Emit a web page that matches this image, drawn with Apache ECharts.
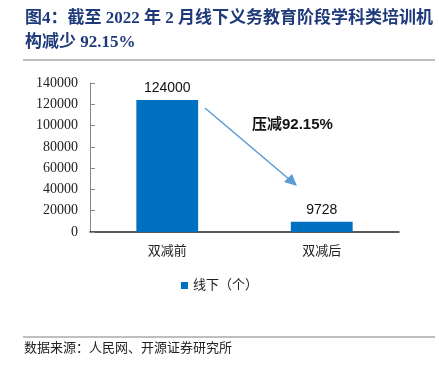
<!DOCTYPE html>
<html><head><meta charset="utf-8">
<script src="https://cdn.jsdelivr.net/npm/echarts@6/dist/echarts.min.js"></script>
<style>html,body{margin:0;padding:0;background:#fff}#c{width:439px;height:375px}</style>
</head><body><div id="c"></div>
<script>
const categories = ['双减前', '双减后'];
const offlineValues = [124000, 9728];
const seriesName = '线下（个）';
const yTicks = [0, 140000, 20000]; // min, max, interval
const titleLines = ['图4：截至 2022 年 2 月线下义务教育阶段学科类培训机', '构减少 92.15%'];
const annotationText = '压减92.15%';
const sourceText = '数据来源：人民网、开源证券研究所';

const serif = '"Liberation Serif", "Noto Sans CJK SC", serif';
const chart = echarts.init(document.getElementById('c'), null, {renderer: 'canvas'});
chart.setOption({
  animation: false,
  backgroundColor: '#fff',
  title: {
    text: titleLines.join('\n'),
    left: 20, top: 2,
    textStyle: {fontFamily: serif, fontSize: 17, fontWeight: 'bold', color: '#1f3a7a', lineHeight: 24}
  },
  grid: {left: 90, right: 40, top: 83, bottom: 143},
  legend: {
    data: [seriesName], top: 274, left: 'center',
    itemWidth: 7, itemHeight: 7, icon: 'rect', itemGap: 4,
    textStyle: {fontFamily: serif, fontSize: 13, color: '#222'}
  },
  xAxis: {
    type: 'category', data: categories,
    axisLine: {lineStyle: {color: '#222', width: 1.5}},
    axisTick: {inside: true, length: 5, lineStyle: {color: '#444'}},
    axisLabel: {fontFamily: serif, fontSize: 13, color: '#222', margin: 13}
  },
  yAxis: {
    type: 'value', min: yTicks[0], max: yTicks[1], interval: yTicks[2],
    splitLine: {show: false},
    axisLine: {show: true, lineStyle: {color: '#888'}},
    axisTick: {show: true, inside: true, length: 5, lineStyle: {color: '#888'}},
    axisLabel: {fontFamily: serif, fontSize: 14, color: '#222', margin: 12, formatter: v => String(v)}
  },
  series: [{
    name: seriesName, type: 'bar', data: offlineValues, barWidth: '40%',
    itemStyle: {color: '#0070c0'},
    label: {show: true, position: 'top', distance: 5, fontFamily: '"Liberation Sans", Arial, sans-serif', fontSize: 14, color: '#111'}
  }],
  graphic: [
    {type: 'line', shape: {x1: 23, y1: 60, x2: 435, y2: 60}, style: {stroke: '#808080', lineWidth: 1.2}},
    {type: 'line', shape: {x1: 23, y1: 337, x2: 435, y2: 337}, style: {stroke: '#808080', lineWidth: 1.2}},
    {type: 'text', left: 24, top: 342, style: {text: sourceText, font: '13px ' + serif, fill: '#222'}},
    {type: 'line', shape: {x1: 205, y1: 108, x2: 290, y2: 180}, style: {stroke: '#5b9bd5', lineWidth: 1.5}},
    {type: 'polygon', shape: {points: [[297, 186], [284, 182], [292, 174]]}, style: {fill: '#5b9bd5'}},
    {type: 'text', left: 252, top: 117, style: {text: annotationText, font: 'bold 15px "Liberation Sans", "Noto Sans CJK SC", sans-serif', fill: '#111'}}
  ]
});
</script></body></html>
